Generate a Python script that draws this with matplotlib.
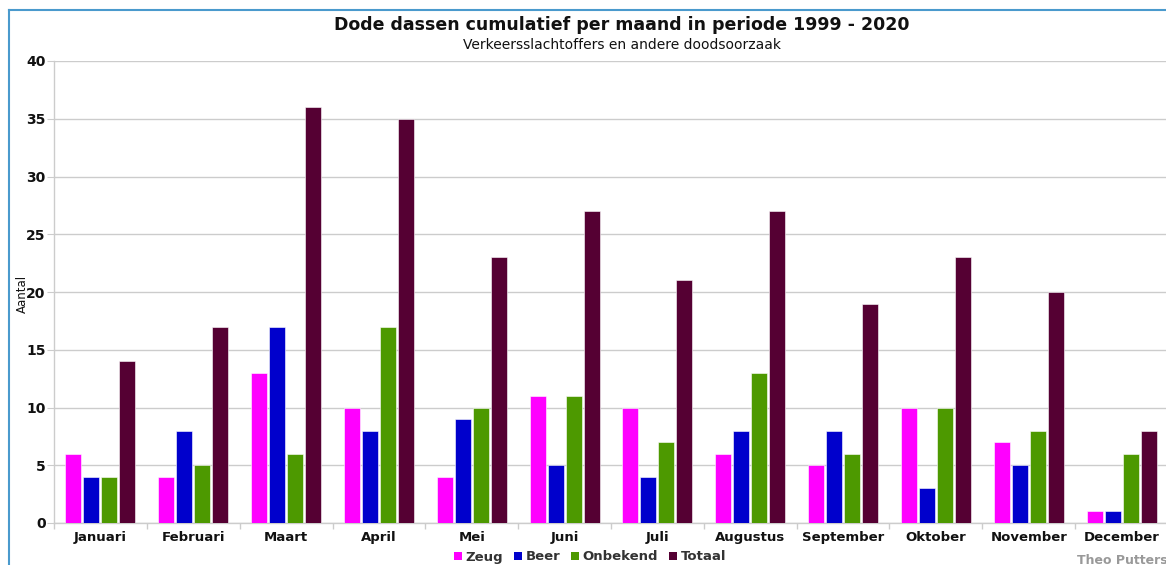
import matplotlib
matplotlib.use("Agg")
import matplotlib.pyplot as plt
import numpy as np
from matplotlib.lines import Line2D
from matplotlib.patches import Patch

months = ["Januari", "Februari", "Maart", "April", "Mei", "Juni", "Juli",
          "Augustus", "September", "Oktober", "November", "December"]
zeug = [6, 4, 13, 10, 4, 11, 10, 6, 5, 10, 7, 1]
beer = [4, 8, 17, 8, 9, 5, 4, 8, 8, 3, 5, 1]
onbekend = [4, 5, 6, 17, 10, 11, 7, 13, 6, 10, 8, 6]
totaal = [14, 17, 36, 35, 23, 27, 21, 27, 19, 23, 20, 8]
series_names = ["Zeug", "Beer", "Onbekend", "Totaal"]
colors = ["#FF00FF", "#0000CC", "#4D9900", "#550033"]

plt.rcParams['font.family'] = ['DejaVu Sans']

W, H = 1166, 565
fig = plt.figure(figsize=(W/100, H/100), dpi=100)
ax = fig.add_axes([54/W, 1-523/H, 1114/W, 462/H])

x = np.arange(len(months))
step = 18/93
bw = 16/93
for i, (vals, c) in enumerate(zip([zeug, beer, onbekend, totaal], colors)):
    ax.bar(x + (i-1.5)*step, vals, width=bw, color=c, edgecolor='white', linewidth=0.4, zorder=3)

ax.set_xlim(-0.5, len(months)-0.5)
ax.set_ylim(0, 40)
ax.set_yticks(range(0, 41, 5))
ax.set_xticks(x)
ax.set_xticklabels(months, fontsize=9.5, fontweight='bold', color='#111111')
ax.set_xticks(np.arange(-0.5, len(months)), minor=True)
ax.tick_params(axis='x', which='major', length=0, pad=6)
ax.tick_params(axis='x', which='minor', length=4, color='#cccccc', width=1)
ax.tick_params(axis='y', length=5, color='#cccccc', labelsize=10, pad=1)
for lab in ax.get_yticklabels():
    lab.set_fontweight('bold')
    lab.set_color('#111111')
ax.grid(axis='y', color='#cccccc', linewidth=1, zorder=0)
for s in ['top', 'right']:
    ax.spines[s].set_visible(False)
ax.spines['left'].set_color('#cccccc')
ax.spines['bottom'].set_color('#cccccc')
ax.spines['left'].set_linewidth(1)
ax.spines['bottom'].set_linewidth(1)

fig.text(22/W, 1-294/H, "Aantal", rotation=90, ha='center', va='center',
         fontsize=8.5, color='#111111')

fig.text(622/W, 1-25/H, "Dode dassen cumulatief per maand in periode 1999 - 2020",
         ha='center', va='center', fontsize=12.5, fontweight='bold', color='#111111')
fig.text(622/W, 1-45/H, "Verkeersslachtoffers en andere doodsoorzaak",
         ha='center', va='center', fontsize=10, color='#111111')

handles = [Patch(facecolor=c, edgecolor='none') for c in colors]
leg = fig.legend(handles, series_names, loc='center', bbox_to_anchor=(590/W, 1-557/H),
                 ncol=4, frameon=False, handlelength=0.6, handleheight=0.6,
                 handletextpad=0.3, columnspacing=0.8, prop={'size': 9.5, 'weight': 'bold'})
for t in leg.get_texts():
    t.set_color('#333333')

fig.text(1077/W, 1-560/H, "Theo Putters", ha='left', va='center', fontsize=9,
         fontweight='bold', color='#999999')

# blue frame
fig.add_artist(Line2D([9/W, 9/W], [0, 1-10/H], color='#4a9acd', linewidth=1.5, transform=fig.transFigure))
fig.add_artist(Line2D([9/W, 1], [1-10/H, 1-10/H], color='#4a9acd', linewidth=1.5, transform=fig.transFigure))

fig.savefig("out.png", dpi=100)
